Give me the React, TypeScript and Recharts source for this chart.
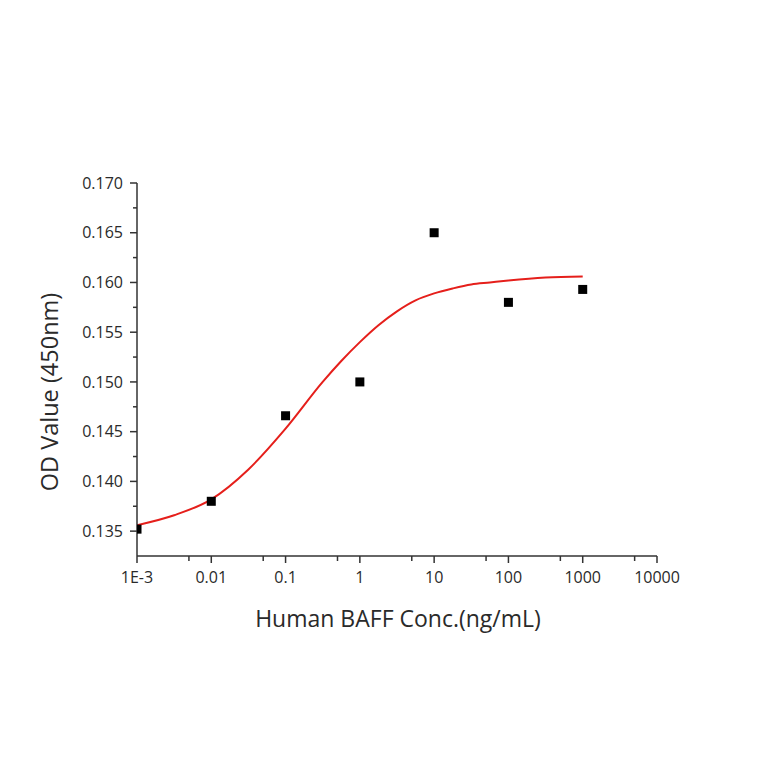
import {
  ComposedChart,
  Line,
  Scatter,
  XAxis,
  YAxis,
  Label,
} from "recharts";

// measured points (concentration in ng/mL, OD at 450 nm)
const conc = [0.001, 0.01, 0.1, 1, 10, 100, 1000];
const od = [0.1352, 0.138, 0.1466, 0.15, 0.165, 0.158, 0.1593];

// fitted curve
const fitConc = [
  0.001, 0.00316, 0.01, 0.0316, 0.1, 0.316, 0.562, 1, 1.78, 3.16, 5.62, 10,
  17.8, 31.6, 56.2, 100, 316, 1000,
];
const fitOd = [
  0.1356, 0.1366, 0.1382, 0.1412, 0.1453, 0.15, 0.1521, 0.154, 0.1557,
  0.1571, 0.1582, 0.1589, 0.1594, 0.1598, 0.16, 0.1602, 0.1605, 0.1606,
];

const xMajor = [0.001, 0.01, 0.1, 1, 10, 100, 1000, 10000];
const xMinor = [0.005, 0.05, 0.5, 5, 50, 500, 5000];
const xLabels = ["1E-3", "0.01", "0.1", "1", "10", "100", "1000", "10000"];
const yMajor = [0.135, 0.14, 0.145, 0.15, 0.155, 0.16, 0.165, 0.17];
const yMinor = [0.1375, 0.1425, 0.1475, 0.1525, 0.1575, 0.1625, 0.1675];

const points = conc.map((x, i) => ({ x, y: od[i] }));
const fit = fitConc.map((x, i) => ({ x, fit: fitOd[i] }));

const axisColor = "#333";
const textColor = "#2a2a2a";
const font = "'Open Sans', 'DejaVu Sans', sans-serif";

// recharts hands the tick label anchor (axis + 6 tick + 2 margin)
function XTick(props: any) {
  const { x, y, payload } = props;
  const i = xMajor.indexOf(payload.value);
  const major = i >= 0;
  const axisY = y - 8;
  return (
    <g>
      <line x1={x} x2={x} y1={axisY} y2={axisY + (major ? 7 : 5)} stroke={axisColor} strokeWidth={1.5} />
      {major && (
        <text x={x} y={axisY + 27} textAnchor="middle" fontSize={16} fill={textColor} fontFamily={font}>
          {xLabels[i]}
        </text>
      )}
    </g>
  );
}

function YTick(props: any) {
  const { x, y, payload } = props;
  const major = yMajor.some((v) => Math.abs(v - payload.value) < 1e-9);
  const axisX = x + 8;
  return (
    <g>
      <line x1={axisX} x2={axisX - (major ? 7 : 4)} y1={y} y2={y} stroke={axisColor} strokeWidth={1.5} />
      {major && (
        <text x={axisX - 14} y={y + 5.7} textAnchor="end" fontSize={16} fill={textColor} fontFamily={font}>
          {payload.value.toFixed(3)}
        </text>
      )}
    </g>
  );
}

function Square(props: any) {
  const { cx, cy } = props;
  return <rect x={cx - 4.5} y={cy - 4.5} width={9} height={9} fill="#000" />;
}

export default function App() {
  return (
    <div style={{ width: 764, height: 764 }}>
      <style>{"body{margin:0;background:#fff}"}</style>
      <ComposedChart
        width={764}
        height={764}
        margin={{ top: 183, right: 107, bottom: 148, left: 0 }}
      >
        <XAxis
          dataKey="x"
          type="number"
          scale="log"
          domain={[0.001, 10000]}
          ticks={[...xMajor, ...xMinor]}
          allowDataOverflow
          height={60}
          stroke={axisColor}
          strokeWidth={1.5}
          tickLine={false}
          tick={<XTick />}
          interval={0}
        >
          <Label
            value="Human BAFF Conc.(ng/mL)"
            content={() => (
              <text x={398} y={627} textAnchor="middle" fontSize={23} fill={textColor} fontFamily={font}>
                Human BAFF Conc.(ng/mL)
              </text>
            )}
          />
        </XAxis>
        <YAxis
          type="number"
          domain={[0.1325, 0.17]}
          ticks={[...yMajor, ...yMinor]}
          allowDataOverflow
          width={137}
          stroke={axisColor}
          strokeWidth={1.5}
          tickLine={false}
          tick={<YTick />}
          interval={0}
        >
          <Label
            value="OD Value (450nm)"
            content={() => (
              <text
                x={58}
                y={392}
                transform="rotate(-90 58 392)"
                textAnchor="middle"
                fontSize={23.5}
                fill={textColor}
                fontFamily={font}
              >
                OD Value (450nm)
              </text>
            )}
          />
        </YAxis>
        <Line
          data={fit}
          dataKey="fit"
          type="monotone"
          stroke="#e51f1b"
          strokeWidth={2}
          dot={false}
          isAnimationActive={false}
        />
        <Scatter
          data={points}
          dataKey="y"
          shape={<Square />}
          isAnimationActive={false}
        />
      </ComposedChart>
    </div>
  );
}
